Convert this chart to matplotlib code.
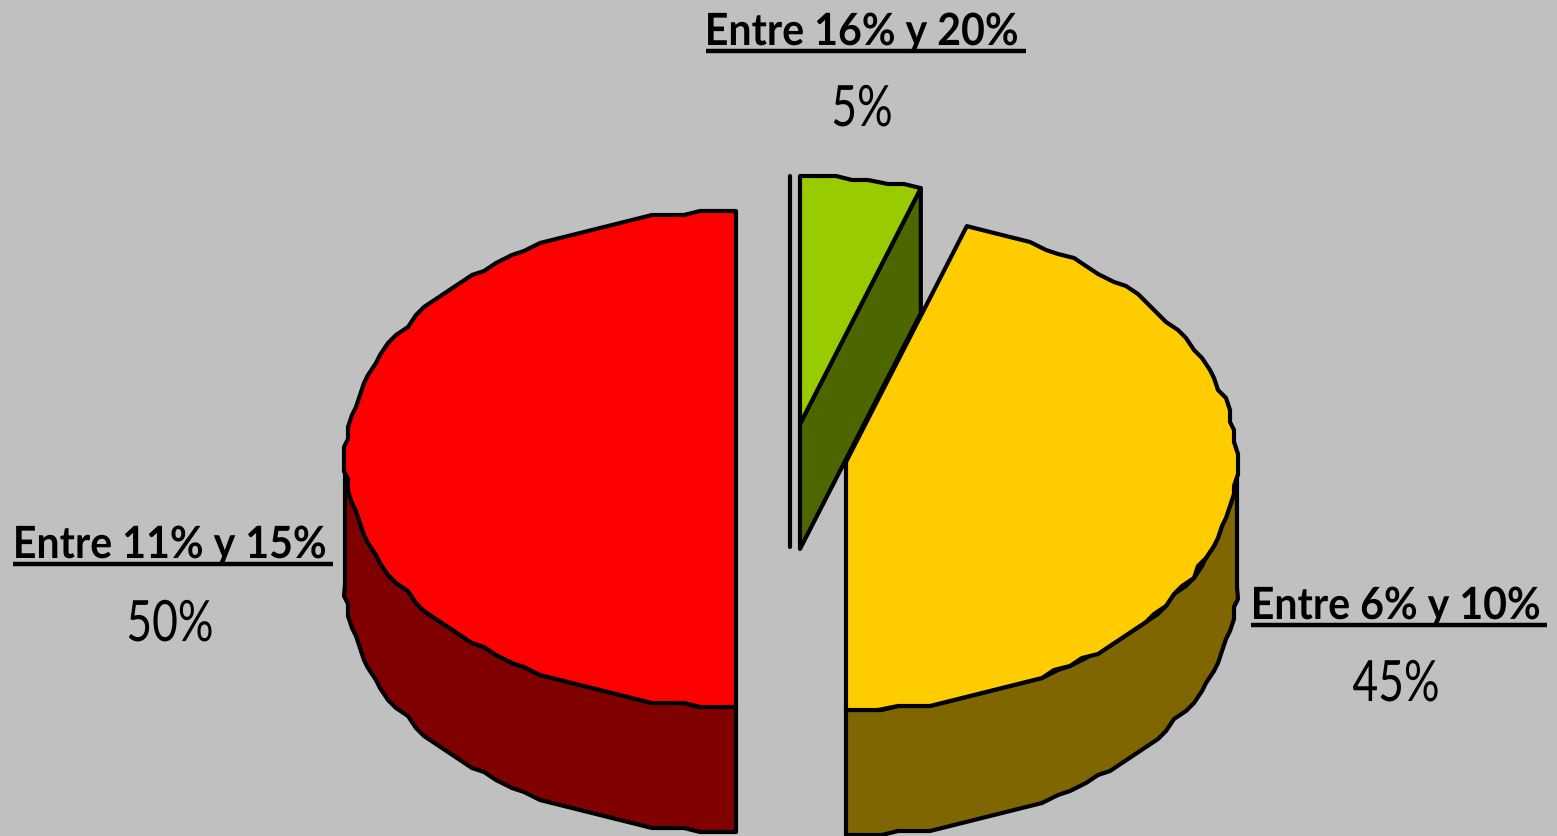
import numpy as np
import matplotlib
matplotlib.use("Agg")
import matplotlib.pyplot as plt
from matplotlib.patches import Polygon
from matplotlib.patheffects import AbstractPathEffect
from matplotlib.transforms import Affine2D

categories = ["Entre 16% y 20%", "Entre 6% y 10%", "Entre 11% y 15%"]
values = [5, 45, 50]

top_colors = ["#99CC00", "#FFCC00", "#FF0000"]
side_colors = ["#4D6600", "#806600", "#800000"]
centers = [(800, 425), (846, 463), (736, 460)]
RX, RY, DEPTH = 391, 248, 125
FONT = ["Lato", "DejaVu Sans"]
BG = "#C0C0C0"
LW = 3.0

fig = plt.figure(figsize=(15.57, 8.37), dpi=100, facecolor=BG)
ax = fig.add_axes([0, 0, 1, 1])
ax.set_xlim(0, 1557)
ax.set_ylim(837, 0)
ax.axis("off")


class Condense(AbstractPathEffect):
    """Narrows a real text artist horizontally about its centre (Calibri-like widths)."""

    def __init__(self, sx, x0):
        super().__init__()
        self.sx, self.x0 = sx, x0

    def draw_path(self, renderer, gc, tpath, affine, rgbFace=None):
        squeeze = Affine2D().translate(-self.x0, 0).scale(self.sx, 1).translate(self.x0, 0)
        renderer.draw_path(gc, tpath, affine + squeeze, rgbFace)


def arc(c, a0, a1):
    """Slightly jagged elliptical arc, degrees clockwise from twelve o'clock."""
    n = max(2, int(round(abs(a1 - a0) / 2.5)) + 1)
    t = np.radians(np.linspace(a0, a1, n))
    x = c[0] + np.round(RX * np.sin(t) / 4) * 4
    y = c[1] - np.round(RY * np.cos(t) / 4) * 4
    x[0], x[-1] = c[0] + RX * np.sin(t[0]), c[0] + RX * np.sin(t[-1])
    y[0], y[-1] = c[1] - RY * np.cos(t[0]), c[1] - RY * np.cos(t[-1])
    return np.column_stack([x, y])


def poly(pts, fc):
    ax.add_patch(Polygon(pts, closed=True, facecolor=fc, edgecolor="black",
                         linewidth=LW, joinstyle="round"))


edges = np.cumsum([0] + values) * 3.6
for i, v in enumerate(values):
    a0, a1 = edges[i], edges[i + 1]
    c = centers[i]
    lo, hi = max(a0, 90), min(a1, 270)
    if lo < hi:
        rim = arc(c, lo, hi)
        poly(np.vstack([rim, (rim + [0, DEPTH])[::-1]]), side_colors[i])
    if i == 0:
        rim_pt = arc(c, a1 - 1, a1)[-1]
        cf = np.array([c, rim_pt, rim_pt + [0, DEPTH], (c[0], c[1] + DEPTH)])
        poly(cf, side_colors[i])
        ax.plot([c[0] - 10] * 2, [c[1] - RY, c[1] + DEPTH - 2], color="black",
                lw=LW, solid_capstyle="round")
    poly(np.vstack([[c], arc(c, a0, a1)]), top_colors[i])

label_pos = [(862, 46, 127, 706, 1026), (1396, 620, 702, 1251, 1547), (170, 559, 642, 13, 333)]
for name, v, (cx, by, vy, ux0, ux1) in zip(categories, values, label_pos):
    ax.text(cx, by, name, family=FONT, fontweight="bold", fontsize=32,
            ha="center", va="baseline", color="black",
            path_effects=[Condense(0.925, cx)])
    ax.plot([ux0, ux1], [by + 6, by + 6], color="black", lw=3.2, solid_capstyle="butt")
    ax.text(cx, vy, f"{v}%", family=FONT, fontsize=41,
            ha="center", va="baseline", color="black",
            path_effects=[Condense(0.78, cx)])

fig.savefig("out.png", dpi=100, facecolor=BG)
